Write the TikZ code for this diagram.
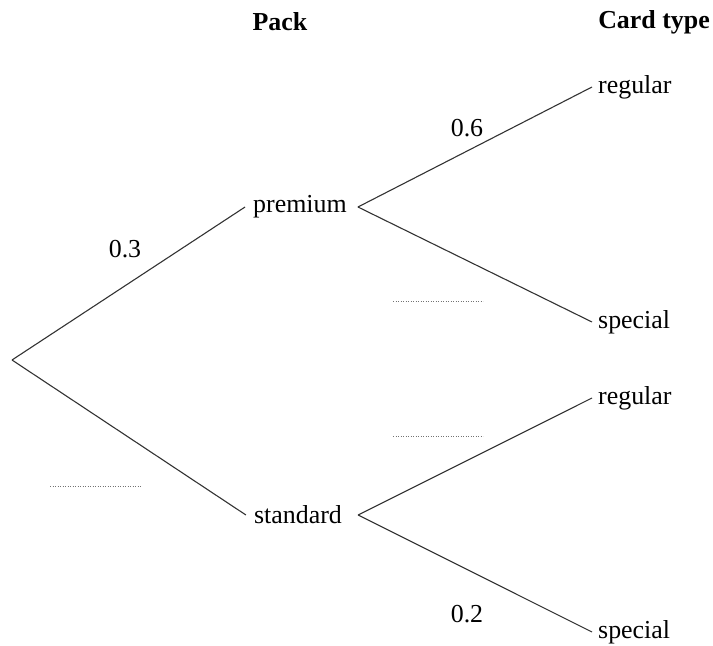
\documentclass[tikz,border=0pt]{standalone}
\usepackage{fontspec}
\setmainfont{Liberation Serif}
\usetikzlibrary{positioning}

\begin{document}
\begin{tikzpicture}[x=1bp,y=-1bp,font=\fontsize{26}{30}\selectfont,
    branch/.style={draw=black!80,line width=1.1bp},
    outcome/.style={inner xsep=6bp,inner ysep=0bp},
    heading/.style={font=\fontsize{26}{30}\selectfont\bfseries},
    blank/.style={draw=black!55,line width=0.9bp,dash pattern=on 0.8bp off 1.7bp}]
    \useasboundingbox (0,0) rectangle (713,646);
    \node[heading] (pack) at (280,22) {Pack};
    \node[heading] (type) at (654,22) {Card type};
    \coordinate (root) at (12,360);
    \node[inner xsep=8bp] (prem) at (300,207) {premium};
    \node[inner xsep=8bp] (stan) at (298,515) {standard};
    \coordinate[right=3bp of prem] (pfork);
    \coordinate[right=8bp of stan] (sfork);
    \node[outcome,anchor=west] (preg) at (592,87) {regular};
    \node[outcome,anchor=west] (pspe) at (592,322) {special};
    \node[outcome,anchor=west] (sreg) at (592,398) {regular};
    \node[outcome,anchor=west] (sspe) at (592,632) {special};
    \draw[branch] (root) -- (prem.west);
    \draw[branch] (root) -- (stan.west);
    \draw[branch] (pfork) -- (preg.west);
    \draw[branch] (pfork) -- (pspe.west);
    \draw[branch] (sfork) -- (sreg.west);
    \draw[branch] (sfork) -- (sspe.west);
    % probabilities
    \node (p1) at (125,249) {0.3};
    \node (p2) at (467,128) {0.6};
    \node (p3) at (467,614) {0.2};
    % answer spaces
    \draw[blank] (50,486) -- (141,486);
    \draw[blank] (393,301) -- (483,301);
    \draw[blank] (393,436) -- (483,436);
\end{tikzpicture}
\end{document}
